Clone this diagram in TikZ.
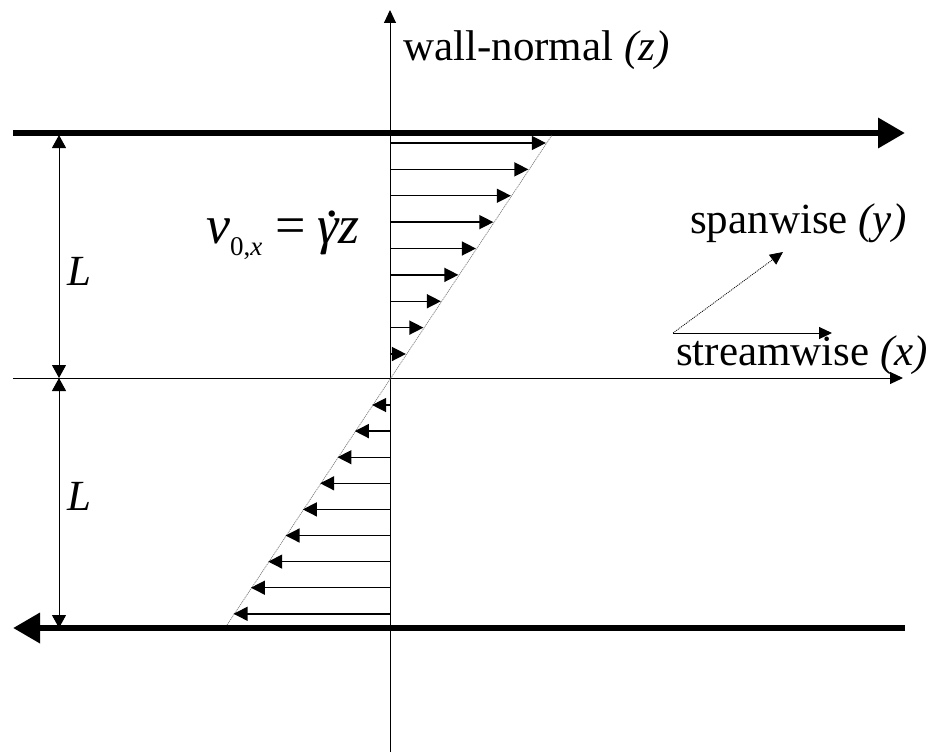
\documentclass[tikz,border=0pt]{standalone}
\usepackage{fontspec}
\setmainfont{Liberation Serif}
\usetikzlibrary{arrows.meta}
\newcommand{\mygdot}{\ooalign{\itshape γ\cr\hidewidth\kern0.18em\raisebox{0.5em}{.}\hidewidth\cr}}
\begin{document}
\begin{tikzpicture}[x=1pt,y=-1pt,
  lab/.style={inner sep=0pt,anchor=base west,font=\fontsize{43}{50}\selectfont},
  wall/.style={line width=6.5pt,-{Triangle[length=27pt,width=29pt]}},
  axis/.style={line width=1pt,-{Triangle[length=13pt,width=12pt]}},
  dim/.style={line width=1pt,{Triangle[length=13pt,width=14pt]}-{Triangle[length=13pt,width=14pt]}},
  vel/.style={line width=1.4pt,-{Triangle[length=14pt,width=14pt]}},
  prof/.style={line width=0.7pt,gray,dash pattern=on 1.2pt off 0.8pt}]
\useasboundingbox (0,0) rectangle (936,752);
% coordinates
\coordinate (O) at (390,378);
\coordinate (zbot) at (390,752);
\coordinate (ztop) at (390,10);
\coordinate (xl) at (13,378);
\coordinate (xr) at (903,378);
\coordinate (twl) at (13,133);
\coordinate (twr) at (905,133);
\coordinate (bwl) at (13,628);
\coordinate (bwr) at (905,628);
\coordinate (dt) at (59,135);
\coordinate (dm) at (59,378);
\coordinate (db) at (59,628);
\coordinate (pt) at (552,135);
\coordinate (pb) at (227,625);
\coordinate (so) at (673,333);
\coordinate (sy) at (783,252);
\coordinate (sx) at (832,333);
% axes
\draw[axis] (zbot) -- (ztop);
\draw[axis] (xl) -- (xr);
% walls
\draw[wall] (twl) -- (twr);
\draw[wall] (bwr) -- (bwl);
% dimensions
\draw[dim] (dt) -- (dm);
\draw[dim] (dm) -- (db);
% profile
\draw[prof] (pb) -- (pt);
\foreach \i in {0,...,8}{
  \pgfmathsetmacro{\yy}{143+\i*26.375}
  \pgfmathsetmacro{\xx}{390+(378-\yy)*0.6633}
  \coordinate (ua\i) at (390,\yy);
  \coordinate (ub\i) at (\xx,\yy);
  \draw[vel] (ua\i) -- (ub\i);
  \pgfmathsetmacro{\yb}{405+\i*26.1}
  \pgfmathsetmacro{\xb}{390-(\yb-378)*0.6633}
  \coordinate (la\i) at (390,\yb);
  \coordinate (lb\i) at (\xb,\yb);
  \draw[vel] (la\i) -- (lb\i);
}
% direction triad
\draw[line width=0.8pt,dash pattern=on 1pt off 1pt,-{Triangle[length=13pt,width=12pt]}] (so) -- (sy);
\draw[line width=1pt,-{Triangle[length=13pt,width=12pt]}] (so) -- (sx);
% labels
\node[lab] (wn) at (403,60) {wall-normal \textit{(z)}};
\node[lab] (sp) at (690,233) {spanwise \textit{(y)}};
\node[lab] (st) at (676,365) {streamwise \textit{(x)}};
\node[lab] (L1) at (67,285) {\textit{L}};
\node[lab] (L2) at (67,510) {\textit{L}};
\node[inner sep=0pt,anchor=base west,font=\fontsize{54}{64}\selectfont] (eq) at (206,243)
  {\textit{v}\raisebox{-12pt}{\fontsize{27}{30}\selectfont 0,\textit{x}}\kern0.25em=\kern0.2em\mygdot\textit{z}};
\end{tikzpicture}
\end{document}
